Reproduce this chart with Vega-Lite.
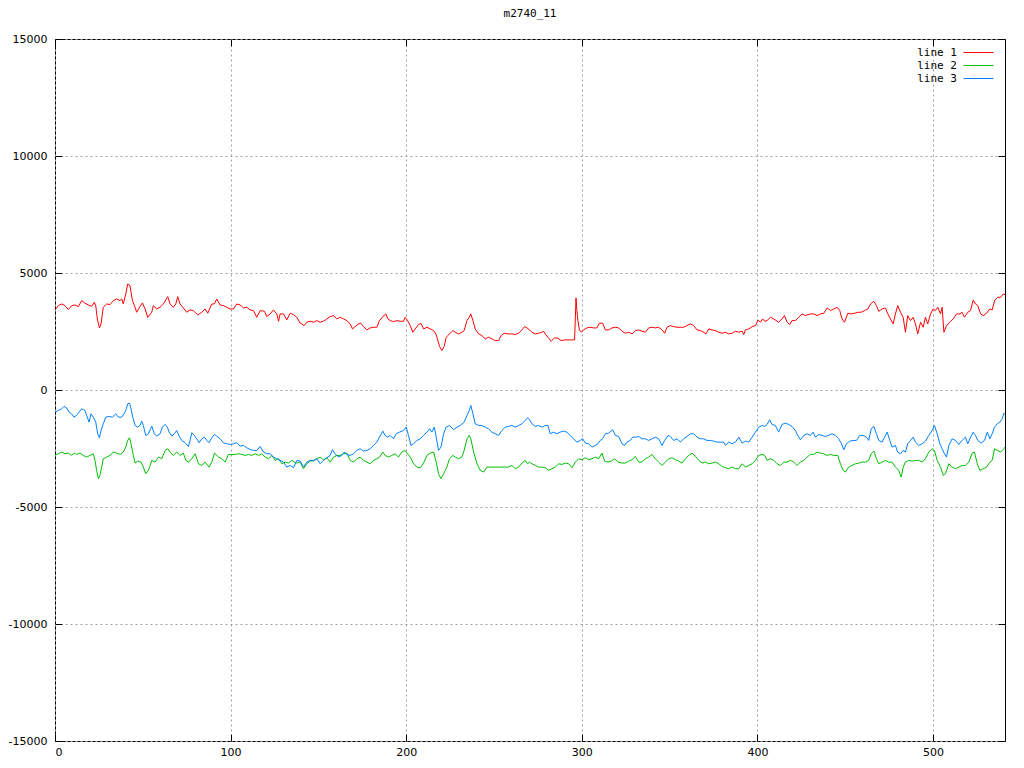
{
"$schema":"https://vega.github.io/schema/vega-lite/v6.json",
"width":950,"height":702,
"autosize":{"type":"none"},
"padding":{"left":55,"top":39,"right":19,"bottom":27},
"background":"white",
"title":{"text":"m2740_11","font":"DejaVu Sans Mono","fontSize":11,"fontWeight":"normal","color":"black","offset":14},
"config":{"view":{"stroke":"black","strokeWidth":1},
"axis":{"domain":false,"tickColor":"black","tickSize":-7,"tickWidth":1,"labelFont":"DejaVu Sans","labelFontSize":11,"labelColor":"black","gridColor":"#a0a0a0","gridDash":[2,3],"gridWidth":1,"title":null,"labelExpr":"'' + datum.value"}},
"data":{"values":[
{"x":0,"y":3421,"s":"line 1"},{"x":1.9,"y":3606,"s":"line 1"},{"x":3.8,"y":3677,"s":"line 1"},{"x":5.7,"y":3606,"s":"line 1"},{"x":7.6,"y":3436,"s":"line 1"},{"x":9.5,"y":3606,"s":"line 1"},{"x":11.4,"y":3635,"s":"line 1"},{"x":13.3,"y":3564,"s":"line 1"},{"x":15.2,"y":3820,"s":"line 1"},{"x":17.1,"y":3706,"s":"line 1"},{"x":19,"y":3635,"s":"line 1"},{"x":20.9,"y":3578,"s":"line 1"},{"x":22.4,"y":3749,"s":"line 1"},{"x":23.2,"y":3606,"s":"line 1"},{"x":24.1,"y":3037,"s":"line 1"},{"x":25.3,"y":2653,"s":"line 1"},{"x":26.2,"y":2824,"s":"line 1"},{"x":27.5,"y":3535,"s":"line 1"},{"x":29.4,"y":3677,"s":"line 1"},{"x":31.3,"y":3649,"s":"line 1"},{"x":33.2,"y":3820,"s":"line 1"},{"x":35.1,"y":3891,"s":"line 1"},{"x":37,"y":3820,"s":"line 1"},{"x":38,"y":3891,"s":"line 1"},{"x":38.9,"y":3677,"s":"line 1"},{"x":40.3,"y":4104,"s":"line 1"},{"x":41.4,"y":4531,"s":"line 1"},{"x":42.7,"y":4460,"s":"line 1"},{"x":44.1,"y":3820,"s":"line 1"},{"x":45.6,"y":3535,"s":"line 1"},{"x":46.5,"y":3322,"s":"line 1"},{"x":48.4,"y":3564,"s":"line 1"},{"x":49.8,"y":3720,"s":"line 1"},{"x":51.3,"y":3464,"s":"line 1"},{"x":52.8,"y":3108,"s":"line 1"},{"x":55.1,"y":3322,"s":"line 1"},{"x":56,"y":3606,"s":"line 1"},{"x":57.9,"y":3464,"s":"line 1"},{"x":59.8,"y":3535,"s":"line 1"},{"x":61.7,"y":3677,"s":"line 1"},{"x":64.2,"y":3990,"s":"line 1"},{"x":65.5,"y":3677,"s":"line 1"},{"x":67.4,"y":3535,"s":"line 1"},{"x":68.8,"y":3677,"s":"line 1"},{"x":69.9,"y":3990,"s":"line 1"},{"x":71.2,"y":3677,"s":"line 1"},{"x":73.1,"y":3507,"s":"line 1"},{"x":75,"y":3322,"s":"line 1"},{"x":76.9,"y":3421,"s":"line 1"},{"x":78.8,"y":3393,"s":"line 1"},{"x":81.3,"y":3208,"s":"line 1"},{"x":83.6,"y":3322,"s":"line 1"},{"x":85.5,"y":3464,"s":"line 1"},{"x":87,"y":3279,"s":"line 1"},{"x":89.3,"y":3677,"s":"line 1"},{"x":90.8,"y":3677,"s":"line 1"},{"x":92.1,"y":3891,"s":"line 1"},{"x":94,"y":3635,"s":"line 1"},{"x":95.9,"y":3606,"s":"line 1"},{"x":97.8,"y":3535,"s":"line 1"},{"x":99.7,"y":3464,"s":"line 1"},{"x":101.6,"y":3464,"s":"line 1"},{"x":103.5,"y":3677,"s":"line 1"},{"x":105.4,"y":3635,"s":"line 1"},{"x":107.3,"y":3507,"s":"line 1"},{"x":109.2,"y":3535,"s":"line 1"},{"x":111.1,"y":3421,"s":"line 1"},{"x":113,"y":3393,"s":"line 1"},{"x":114.9,"y":3108,"s":"line 1"},{"x":116.8,"y":3393,"s":"line 1"},{"x":119.3,"y":3365,"s":"line 1"},{"x":120.6,"y":3137,"s":"line 1"},{"x":122.5,"y":3251,"s":"line 1"},{"x":124.4,"y":3421,"s":"line 1"},{"x":126.3,"y":3251,"s":"line 1"},{"x":127.3,"y":2938,"s":"line 1"},{"x":128.2,"y":3251,"s":"line 1"},{"x":130.1,"y":3251,"s":"line 1"},{"x":132,"y":2995,"s":"line 1"},{"x":133.9,"y":3279,"s":"line 1"},{"x":135.8,"y":3222,"s":"line 1"},{"x":137.7,"y":3108,"s":"line 1"},{"x":139.6,"y":2866,"s":"line 1"},{"x":141.9,"y":2753,"s":"line 1"},{"x":143.4,"y":2895,"s":"line 1"},{"x":145.3,"y":2938,"s":"line 1"},{"x":147.2,"y":2895,"s":"line 1"},{"x":149.1,"y":2966,"s":"line 1"},{"x":151,"y":2895,"s":"line 1"},{"x":152.9,"y":2938,"s":"line 1"},{"x":154.8,"y":3037,"s":"line 1"},{"x":156.7,"y":3137,"s":"line 1"},{"x":158.6,"y":3180,"s":"line 1"},{"x":160.5,"y":3037,"s":"line 1"},{"x":162.4,"y":3108,"s":"line 1"},{"x":164.3,"y":3037,"s":"line 1"},{"x":166.2,"y":2966,"s":"line 1"},{"x":168.1,"y":2824,"s":"line 1"},{"x":169.4,"y":2610,"s":"line 1"},{"x":170.9,"y":2710,"s":"line 1"},{"x":172.8,"y":2824,"s":"line 1"},{"x":174.2,"y":2852,"s":"line 1"},{"x":175.7,"y":2710,"s":"line 1"},{"x":177.6,"y":2568,"s":"line 1"},{"x":179.5,"y":2653,"s":"line 1"},{"x":181.4,"y":2681,"s":"line 1"},{"x":183.3,"y":2681,"s":"line 1"},{"x":184.8,"y":2966,"s":"line 1"},{"x":186.7,"y":3137,"s":"line 1"},{"x":188.4,"y":3251,"s":"line 1"},{"x":189.6,"y":3037,"s":"line 1"},{"x":190.9,"y":2966,"s":"line 1"},{"x":192.8,"y":2923,"s":"line 1"},{"x":194.7,"y":2966,"s":"line 1"},{"x":196.6,"y":2938,"s":"line 1"},{"x":198.5,"y":2938,"s":"line 1"},{"x":199.4,"y":3108,"s":"line 1"},{"x":200.8,"y":2966,"s":"line 1"},{"x":202.3,"y":2753,"s":"line 1"},{"x":203.8,"y":2468,"s":"line 1"},{"x":205.1,"y":2610,"s":"line 1"},{"x":207,"y":2795,"s":"line 1"},{"x":208.4,"y":2852,"s":"line 1"},{"x":209.9,"y":2610,"s":"line 1"},{"x":211.8,"y":2681,"s":"line 1"},{"x":213.7,"y":2610,"s":"line 1"},{"x":215.6,"y":2539,"s":"line 1"},{"x":216.9,"y":2397,"s":"line 1"},{"x":217.8,"y":2184,"s":"line 1"},{"x":219,"y":1857,"s":"line 1"},{"x":220.3,"y":1686,"s":"line 1"},{"x":221.6,"y":1857,"s":"line 1"},{"x":222.8,"y":2255,"s":"line 1"},{"x":224.7,"y":2397,"s":"line 1"},{"x":226.6,"y":2539,"s":"line 1"},{"x":227.9,"y":2468,"s":"line 1"},{"x":229.8,"y":2397,"s":"line 1"},{"x":231.7,"y":2468,"s":"line 1"},{"x":233,"y":2539,"s":"line 1"},{"x":234.6,"y":2966,"s":"line 1"},{"x":235.9,"y":3108,"s":"line 1"},{"x":236.8,"y":3251,"s":"line 1"},{"x":238,"y":2966,"s":"line 1"},{"x":239.3,"y":2610,"s":"line 1"},{"x":241.2,"y":2397,"s":"line 1"},{"x":243.1,"y":2326,"s":"line 1"},{"x":245,"y":2184,"s":"line 1"},{"x":246.9,"y":2255,"s":"line 1"},{"x":248.8,"y":2184,"s":"line 1"},{"x":250.7,"y":2112,"s":"line 1"},{"x":252.6,"y":2112,"s":"line 1"},{"x":254.1,"y":2326,"s":"line 1"},{"x":255.8,"y":2426,"s":"line 1"},{"x":258.3,"y":2397,"s":"line 1"},{"x":260.2,"y":2397,"s":"line 1"},{"x":262.1,"y":2369,"s":"line 1"},{"x":264,"y":2426,"s":"line 1"},{"x":265.9,"y":2568,"s":"line 1"},{"x":267.4,"y":2710,"s":"line 1"},{"x":268.8,"y":2653,"s":"line 1"},{"x":270.3,"y":2568,"s":"line 1"},{"x":271.6,"y":2468,"s":"line 1"},{"x":273.5,"y":2397,"s":"line 1"},{"x":275.4,"y":2426,"s":"line 1"},{"x":277.3,"y":2468,"s":"line 1"},{"x":278.2,"y":2511,"s":"line 1"},{"x":279.2,"y":2397,"s":"line 1"},{"x":280.7,"y":2255,"s":"line 1"},{"x":282.6,"y":2084,"s":"line 1"},{"x":284.5,"y":2226,"s":"line 1"},{"x":286.4,"y":2212,"s":"line 1"},{"x":288.3,"y":2112,"s":"line 1"},{"x":290.6,"y":2141,"s":"line 1"},{"x":293.4,"y":2141,"s":"line 1"},{"x":295.9,"y":2141,"s":"line 1"},{"x":296.3,"y":3037,"s":"line 1"},{"x":296.7,"y":3934,"s":"line 1"},{"x":297.2,"y":3393,"s":"line 1"},{"x":297.8,"y":2966,"s":"line 1"},{"x":298.6,"y":2568,"s":"line 1"},{"x":299.7,"y":2468,"s":"line 1"},{"x":301,"y":2568,"s":"line 1"},{"x":302.9,"y":2653,"s":"line 1"},{"x":304.8,"y":2681,"s":"line 1"},{"x":306.7,"y":2653,"s":"line 1"},{"x":308.6,"y":2653,"s":"line 1"},{"x":310,"y":2852,"s":"line 1"},{"x":311.9,"y":2852,"s":"line 1"},{"x":313.4,"y":2568,"s":"line 1"},{"x":315.3,"y":2568,"s":"line 1"},{"x":317.2,"y":2653,"s":"line 1"},{"x":319.1,"y":2681,"s":"line 1"},{"x":321,"y":2653,"s":"line 1"},{"x":322.9,"y":2511,"s":"line 1"},{"x":324.8,"y":2426,"s":"line 1"},{"x":326.7,"y":2468,"s":"line 1"},{"x":328.6,"y":2397,"s":"line 1"},{"x":330.5,"y":2539,"s":"line 1"},{"x":332.4,"y":2568,"s":"line 1"},{"x":334.3,"y":2511,"s":"line 1"},{"x":336.2,"y":2468,"s":"line 1"},{"x":338.1,"y":2653,"s":"line 1"},{"x":340,"y":2681,"s":"line 1"},{"x":341.9,"y":2653,"s":"line 1"},{"x":343.8,"y":2681,"s":"line 1"},{"x":345.7,"y":2568,"s":"line 1"},{"x":347.2,"y":2426,"s":"line 1"},{"x":348.5,"y":2681,"s":"line 1"},{"x":350.4,"y":2753,"s":"line 1"},{"x":352.3,"y":2710,"s":"line 1"},{"x":354.2,"y":2681,"s":"line 1"},{"x":356.1,"y":2681,"s":"line 1"},{"x":358,"y":2681,"s":"line 1"},{"x":359.9,"y":2753,"s":"line 1"},{"x":361.8,"y":2824,"s":"line 1"},{"x":363.7,"y":2753,"s":"line 1"},{"x":365.6,"y":2568,"s":"line 1"},{"x":367.5,"y":2539,"s":"line 1"},{"x":369.4,"y":2468,"s":"line 1"},{"x":370.7,"y":2397,"s":"line 1"},{"x":372.3,"y":2610,"s":"line 1"},{"x":374.2,"y":2568,"s":"line 1"},{"x":376.1,"y":2539,"s":"line 1"},{"x":378,"y":2468,"s":"line 1"},{"x":379.9,"y":2426,"s":"line 1"},{"x":381.8,"y":2468,"s":"line 1"},{"x":383.7,"y":2397,"s":"line 1"},{"x":385.6,"y":2426,"s":"line 1"},{"x":387.5,"y":2511,"s":"line 1"},{"x":389.4,"y":2468,"s":"line 1"},{"x":391.3,"y":2511,"s":"line 1"},{"x":392.2,"y":2369,"s":"line 1"},{"x":393.2,"y":2568,"s":"line 1"},{"x":395.1,"y":2610,"s":"line 1"},{"x":397,"y":2710,"s":"line 1"},{"x":398.9,"y":2753,"s":"line 1"},{"x":400.4,"y":2995,"s":"line 1"},{"x":401.7,"y":2895,"s":"line 1"},{"x":403,"y":3037,"s":"line 1"},{"x":404.2,"y":2938,"s":"line 1"},{"x":405.5,"y":2966,"s":"line 1"},{"x":407.4,"y":3108,"s":"line 1"},{"x":409.3,"y":3037,"s":"line 1"},{"x":412.1,"y":2895,"s":"line 1"},{"x":414,"y":3037,"s":"line 1"},{"x":415.4,"y":3180,"s":"line 1"},{"x":416.9,"y":2895,"s":"line 1"},{"x":418.4,"y":2795,"s":"line 1"},{"x":419.7,"y":2966,"s":"line 1"},{"x":421.6,"y":2966,"s":"line 1"},{"x":423.5,"y":3108,"s":"line 1"},{"x":425.4,"y":3251,"s":"line 1"},{"x":427.3,"y":3180,"s":"line 1"},{"x":430.2,"y":3251,"s":"line 1"},{"x":432.1,"y":3251,"s":"line 1"},{"x":434,"y":3180,"s":"line 1"},{"x":435.9,"y":3251,"s":"line 1"},{"x":437.8,"y":3279,"s":"line 1"},{"x":439.7,"y":3507,"s":"line 1"},{"x":441.6,"y":3393,"s":"line 1"},{"x":443.5,"y":3464,"s":"line 1"},{"x":445.4,"y":3535,"s":"line 1"},{"x":446.9,"y":3393,"s":"line 1"},{"x":448.2,"y":3037,"s":"line 1"},{"x":449.6,"y":2895,"s":"line 1"},{"x":451.5,"y":3279,"s":"line 1"},{"x":453.4,"y":3251,"s":"line 1"},{"x":455.3,"y":3279,"s":"line 1"},{"x":457.2,"y":3322,"s":"line 1"},{"x":459.1,"y":3322,"s":"line 1"},{"x":461,"y":3393,"s":"line 1"},{"x":462.9,"y":3464,"s":"line 1"},{"x":464.4,"y":3677,"s":"line 1"},{"x":466.3,"y":3791,"s":"line 1"},{"x":467.8,"y":3606,"s":"line 1"},{"x":469.1,"y":3365,"s":"line 1"},{"x":471,"y":3464,"s":"line 1"},{"x":472.9,"y":3507,"s":"line 1"},{"x":474.3,"y":3251,"s":"line 1"},{"x":475.8,"y":3037,"s":"line 1"},{"x":477.3,"y":2824,"s":"line 1"},{"x":478.6,"y":3251,"s":"line 1"},{"x":479.9,"y":3606,"s":"line 1"},{"x":481.5,"y":3322,"s":"line 1"},{"x":483,"y":3108,"s":"line 1"},{"x":484.3,"y":2468,"s":"line 1"},{"x":485.6,"y":3180,"s":"line 1"},{"x":487.2,"y":2966,"s":"line 1"},{"x":488.7,"y":3108,"s":"line 1"},{"x":490,"y":2824,"s":"line 1"},{"x":491.3,"y":2397,"s":"line 1"},{"x":492.9,"y":2895,"s":"line 1"},{"x":494.4,"y":2681,"s":"line 1"},{"x":495.7,"y":3108,"s":"line 1"},{"x":497,"y":2824,"s":"line 1"},{"x":498.6,"y":3251,"s":"line 1"},{"x":500.1,"y":3464,"s":"line 1"},{"x":501.4,"y":3393,"s":"line 1"},{"x":502.7,"y":3535,"s":"line 1"},{"x":504.3,"y":3251,"s":"line 1"},{"x":505.2,"y":3535,"s":"line 1"},{"x":506.2,"y":2468,"s":"line 1"},{"x":507.7,"y":2753,"s":"line 1"},{"x":509.6,"y":2895,"s":"line 1"},{"x":511.5,"y":3037,"s":"line 1"},{"x":513.4,"y":3251,"s":"line 1"},{"x":515.3,"y":3251,"s":"line 1"},{"x":516.6,"y":3322,"s":"line 1"},{"x":517.9,"y":3108,"s":"line 1"},{"x":519.8,"y":3322,"s":"line 1"},{"x":521.4,"y":3393,"s":"line 1"},{"x":522.9,"y":3848,"s":"line 1"},{"x":524.2,"y":3677,"s":"line 1"},{"x":525.5,"y":3606,"s":"line 1"},{"x":527.1,"y":3251,"s":"line 1"},{"x":528.6,"y":3180,"s":"line 1"},{"x":530.5,"y":3279,"s":"line 1"},{"x":532.4,"y":3464,"s":"line 1"},{"x":533.7,"y":3421,"s":"line 1"},{"x":535.2,"y":3848,"s":"line 1"},{"x":536.9,"y":3962,"s":"line 1"},{"x":538.5,"y":3962,"s":"line 1"},{"x":540,"y":4104,"s":"line 1"},{"x":541,"y":4076,"s":"line 1"},
{"x":0,"y":-2796,"s":"line 2"},{"x":1.9,"y":-2725,"s":"line 2"},{"x":3.8,"y":-2654,"s":"line 2"},{"x":5.7,"y":-2725,"s":"line 2"},{"x":7.6,"y":-2696,"s":"line 2"},{"x":9.5,"y":-2796,"s":"line 2"},{"x":11,"y":-2696,"s":"line 2"},{"x":12.3,"y":-2753,"s":"line 2"},{"x":14.2,"y":-2696,"s":"line 2"},{"x":16.1,"y":-2796,"s":"line 2"},{"x":18,"y":-2867,"s":"line 2"},{"x":19.9,"y":-2796,"s":"line 2"},{"x":21.8,"y":-2725,"s":"line 2"},{"x":22.8,"y":-3009,"s":"line 2"},{"x":23.7,"y":-3436,"s":"line 2"},{"x":24.7,"y":-3792,"s":"line 2"},{"x":25.6,"y":-3650,"s":"line 2"},{"x":26.6,"y":-3294,"s":"line 2"},{"x":27.5,"y":-2938,"s":"line 2"},{"x":29.4,"y":-2867,"s":"line 2"},{"x":31.3,"y":-2796,"s":"line 2"},{"x":33.2,"y":-2654,"s":"line 2"},{"x":35.1,"y":-2696,"s":"line 2"},{"x":37,"y":-2753,"s":"line 2"},{"x":38.9,"y":-2654,"s":"line 2"},{"x":40.3,"y":-2440,"s":"line 2"},{"x":41.4,"y":-2156,"s":"line 2"},{"x":42.4,"y":-2042,"s":"line 2"},{"x":43.3,"y":-2298,"s":"line 2"},{"x":44.6,"y":-2796,"s":"line 2"},{"x":45.6,"y":-3123,"s":"line 2"},{"x":47.1,"y":-3038,"s":"line 2"},{"x":49,"y":-3081,"s":"line 2"},{"x":50.3,"y":-3294,"s":"line 2"},{"x":51.7,"y":-3578,"s":"line 2"},{"x":53.2,"y":-3436,"s":"line 2"},{"x":55.1,"y":-3009,"s":"line 2"},{"x":57,"y":-3081,"s":"line 2"},{"x":58.9,"y":-2867,"s":"line 2"},{"x":60.8,"y":-2938,"s":"line 2"},{"x":62.7,"y":-2583,"s":"line 2"},{"x":64.2,"y":-2511,"s":"line 2"},{"x":65.5,"y":-2654,"s":"line 2"},{"x":67.4,"y":-2796,"s":"line 2"},{"x":69.3,"y":-2654,"s":"line 2"},{"x":71.2,"y":-2796,"s":"line 2"},{"x":73.1,"y":-2696,"s":"line 2"},{"x":74.5,"y":-3009,"s":"line 2"},{"x":76,"y":-3081,"s":"line 2"},{"x":77.9,"y":-2938,"s":"line 2"},{"x":79.8,"y":-2725,"s":"line 2"},{"x":81.7,"y":-3152,"s":"line 2"},{"x":83.6,"y":-3223,"s":"line 2"},{"x":85.5,"y":-3081,"s":"line 2"},{"x":87.7,"y":-3294,"s":"line 2"},{"x":89.3,"y":-3081,"s":"line 2"},{"x":90.8,"y":-2696,"s":"line 2"},{"x":93.1,"y":-2867,"s":"line 2"},{"x":95,"y":-2938,"s":"line 2"},{"x":96.9,"y":-3081,"s":"line 2"},{"x":98.8,"y":-2753,"s":"line 2"},{"x":100.7,"y":-2767,"s":"line 2"},{"x":102.6,"y":-2753,"s":"line 2"},{"x":104.5,"y":-2725,"s":"line 2"},{"x":106.4,"y":-2753,"s":"line 2"},{"x":108.3,"y":-2796,"s":"line 2"},{"x":110.2,"y":-2753,"s":"line 2"},{"x":112.1,"y":-2796,"s":"line 2"},{"x":114,"y":-2725,"s":"line 2"},{"x":115.9,"y":-2796,"s":"line 2"},{"x":117.8,"y":-2725,"s":"line 2"},{"x":119.7,"y":-2867,"s":"line 2"},{"x":121.6,"y":-2938,"s":"line 2"},{"x":123.5,"y":-2796,"s":"line 2"},{"x":125.4,"y":-3009,"s":"line 2"},{"x":127.3,"y":-2938,"s":"line 2"},{"x":129.2,"y":-3152,"s":"line 2"},{"x":131.1,"y":-3081,"s":"line 2"},{"x":133,"y":-3123,"s":"line 2"},{"x":134.9,"y":-3009,"s":"line 2"},{"x":136.4,"y":-3081,"s":"line 2"},{"x":137.7,"y":-3123,"s":"line 2"},{"x":139.6,"y":-3081,"s":"line 2"},{"x":141.5,"y":-3365,"s":"line 2"},{"x":143.4,"y":-3152,"s":"line 2"},{"x":145.3,"y":-3038,"s":"line 2"},{"x":147.2,"y":-3009,"s":"line 2"},{"x":149.1,"y":-2938,"s":"line 2"},{"x":151,"y":-2867,"s":"line 2"},{"x":152.9,"y":-2981,"s":"line 2"},{"x":154.8,"y":-2896,"s":"line 2"},{"x":156.7,"y":-3081,"s":"line 2"},{"x":158.6,"y":-2867,"s":"line 2"},{"x":160.5,"y":-2796,"s":"line 2"},{"x":162.4,"y":-2796,"s":"line 2"},{"x":164.3,"y":-2725,"s":"line 2"},{"x":166.2,"y":-2696,"s":"line 2"},{"x":168.1,"y":-3009,"s":"line 2"},{"x":170,"y":-3081,"s":"line 2"},{"x":171.9,"y":-2938,"s":"line 2"},{"x":173.8,"y":-2867,"s":"line 2"},{"x":175.7,"y":-3009,"s":"line 2"},{"x":177.6,"y":-3081,"s":"line 2"},{"x":179.5,"y":-3152,"s":"line 2"},{"x":181.4,"y":-3009,"s":"line 2"},{"x":183.3,"y":-2938,"s":"line 2"},{"x":184.8,"y":-2867,"s":"line 2"},{"x":186.7,"y":-2654,"s":"line 2"},{"x":188,"y":-2796,"s":"line 2"},{"x":189.9,"y":-2867,"s":"line 2"},{"x":191.8,"y":-2796,"s":"line 2"},{"x":193.7,"y":-2725,"s":"line 2"},{"x":195.6,"y":-2867,"s":"line 2"},{"x":197.5,"y":-2654,"s":"line 2"},{"x":199.4,"y":-2583,"s":"line 2"},{"x":200.8,"y":-2725,"s":"line 2"},{"x":202.3,"y":-2867,"s":"line 2"},{"x":204.2,"y":-3152,"s":"line 2"},{"x":206.1,"y":-3294,"s":"line 2"},{"x":208,"y":-3322,"s":"line 2"},{"x":209.9,"y":-3123,"s":"line 2"},{"x":211.8,"y":-2796,"s":"line 2"},{"x":213.7,"y":-2696,"s":"line 2"},{"x":215.6,"y":-2654,"s":"line 2"},{"x":217.1,"y":-3081,"s":"line 2"},{"x":218.4,"y":-3578,"s":"line 2"},{"x":219.8,"y":-3792,"s":"line 2"},{"x":221.3,"y":-3578,"s":"line 2"},{"x":222.8,"y":-3365,"s":"line 2"},{"x":224.7,"y":-2938,"s":"line 2"},{"x":226.6,"y":-2796,"s":"line 2"},{"x":227.9,"y":-2867,"s":"line 2"},{"x":229.8,"y":-2938,"s":"line 2"},{"x":231.7,"y":-2867,"s":"line 2"},{"x":233,"y":-2583,"s":"line 2"},{"x":234.6,"y":-2085,"s":"line 2"},{"x":235.9,"y":-1942,"s":"line 2"},{"x":236.8,"y":-2085,"s":"line 2"},{"x":238.4,"y":-2654,"s":"line 2"},{"x":240.3,"y":-3152,"s":"line 2"},{"x":242.2,"y":-3436,"s":"line 2"},{"x":244.1,"y":-3507,"s":"line 2"},{"x":246,"y":-3294,"s":"line 2"},{"x":247.9,"y":-3294,"s":"line 2"},{"x":251.7,"y":-3294,"s":"line 2"},{"x":255.5,"y":-3294,"s":"line 2"},{"x":258.3,"y":-3294,"s":"line 2"},{"x":260.2,"y":-3223,"s":"line 2"},{"x":262.1,"y":-3365,"s":"line 2"},{"x":264,"y":-3294,"s":"line 2"},{"x":265.9,"y":-3123,"s":"line 2"},{"x":267.8,"y":-3009,"s":"line 2"},{"x":269.1,"y":-3152,"s":"line 2"},{"x":270.3,"y":-3081,"s":"line 2"},{"x":271.6,"y":-3152,"s":"line 2"},{"x":273.5,"y":-3223,"s":"line 2"},{"x":275.4,"y":-3294,"s":"line 2"},{"x":277.3,"y":-3294,"s":"line 2"},{"x":279.2,"y":-3322,"s":"line 2"},{"x":281.1,"y":-3436,"s":"line 2"},{"x":283,"y":-3365,"s":"line 2"},{"x":284.9,"y":-3294,"s":"line 2"},{"x":286.8,"y":-3152,"s":"line 2"},{"x":288.7,"y":-3180,"s":"line 2"},{"x":290.6,"y":-3123,"s":"line 2"},{"x":292.5,"y":-3152,"s":"line 2"},{"x":294.4,"y":-3322,"s":"line 2"},{"x":296.3,"y":-3081,"s":"line 2"},{"x":298.2,"y":-2938,"s":"line 2"},{"x":300.1,"y":-2981,"s":"line 2"},{"x":302,"y":-2896,"s":"line 2"},{"x":303.9,"y":-2981,"s":"line 2"},{"x":305.8,"y":-2938,"s":"line 2"},{"x":307.7,"y":-2867,"s":"line 2"},{"x":309.6,"y":-2938,"s":"line 2"},{"x":311.5,"y":-2696,"s":"line 2"},{"x":313,"y":-3038,"s":"line 2"},{"x":314.9,"y":-3081,"s":"line 2"},{"x":316.8,"y":-3038,"s":"line 2"},{"x":318.7,"y":-2938,"s":"line 2"},{"x":320.6,"y":-3081,"s":"line 2"},{"x":322.9,"y":-3123,"s":"line 2"},{"x":324.8,"y":-3123,"s":"line 2"},{"x":326.7,"y":-3038,"s":"line 2"},{"x":328.6,"y":-2981,"s":"line 2"},{"x":330.5,"y":-2839,"s":"line 2"},{"x":332.4,"y":-3081,"s":"line 2"},{"x":334.3,"y":-3081,"s":"line 2"},{"x":336.2,"y":-2938,"s":"line 2"},{"x":338.1,"y":-2867,"s":"line 2"},{"x":340,"y":-2753,"s":"line 2"},{"x":341.9,"y":-2938,"s":"line 2"},{"x":343.8,"y":-3081,"s":"line 2"},{"x":345.7,"y":-3223,"s":"line 2"},{"x":347.6,"y":-3081,"s":"line 2"},{"x":349.5,"y":-2938,"s":"line 2"},{"x":351.4,"y":-2896,"s":"line 2"},{"x":353.3,"y":-2981,"s":"line 2"},{"x":355.2,"y":-3038,"s":"line 2"},{"x":357.1,"y":-3123,"s":"line 2"},{"x":359,"y":-2938,"s":"line 2"},{"x":360.9,"y":-2796,"s":"line 2"},{"x":362.8,"y":-2696,"s":"line 2"},{"x":364.7,"y":-2839,"s":"line 2"},{"x":366.6,"y":-3009,"s":"line 2"},{"x":368.5,"y":-3123,"s":"line 2"},{"x":370.4,"y":-3081,"s":"line 2"},{"x":372.3,"y":-3152,"s":"line 2"},{"x":374.2,"y":-3123,"s":"line 2"},{"x":376.1,"y":-3081,"s":"line 2"},{"x":378,"y":-3152,"s":"line 2"},{"x":379.9,"y":-3265,"s":"line 2"},{"x":381.8,"y":-3322,"s":"line 2"},{"x":383.7,"y":-3365,"s":"line 2"},{"x":385.6,"y":-3294,"s":"line 2"},{"x":387.5,"y":-3365,"s":"line 2"},{"x":389.4,"y":-3365,"s":"line 2"},{"x":391.3,"y":-3152,"s":"line 2"},{"x":393.2,"y":-3294,"s":"line 2"},{"x":395.1,"y":-3223,"s":"line 2"},{"x":397,"y":-3152,"s":"line 2"},{"x":398.9,"y":-3009,"s":"line 2"},{"x":400.8,"y":-2796,"s":"line 2"},{"x":402.7,"y":-2753,"s":"line 2"},{"x":404.2,"y":-2796,"s":"line 2"},{"x":405.5,"y":-3009,"s":"line 2"},{"x":407.4,"y":-2938,"s":"line 2"},{"x":409.3,"y":-3009,"s":"line 2"},{"x":411.2,"y":-3152,"s":"line 2"},{"x":413.1,"y":-3223,"s":"line 2"},{"x":415,"y":-3081,"s":"line 2"},{"x":416.9,"y":-3081,"s":"line 2"},{"x":418.8,"y":-3009,"s":"line 2"},{"x":420.7,"y":-3081,"s":"line 2"},{"x":422.6,"y":-3223,"s":"line 2"},{"x":424.5,"y":-3081,"s":"line 2"},{"x":426.4,"y":-3009,"s":"line 2"},{"x":428.3,"y":-2867,"s":"line 2"},{"x":430.2,"y":-2753,"s":"line 2"},{"x":432.1,"y":-2753,"s":"line 2"},{"x":434,"y":-2654,"s":"line 2"},{"x":435.9,"y":-2696,"s":"line 2"},{"x":437.8,"y":-2725,"s":"line 2"},{"x":439.7,"y":-2796,"s":"line 2"},{"x":441.6,"y":-2753,"s":"line 2"},{"x":443.5,"y":-2796,"s":"line 2"},{"x":445.8,"y":-2796,"s":"line 2"},{"x":447.3,"y":-3152,"s":"line 2"},{"x":448.8,"y":-3436,"s":"line 2"},{"x":450.1,"y":-3507,"s":"line 2"},{"x":452,"y":-3294,"s":"line 2"},{"x":453.9,"y":-3223,"s":"line 2"},{"x":455.8,"y":-3152,"s":"line 2"},{"x":457.7,"y":-3123,"s":"line 2"},{"x":459.6,"y":-3081,"s":"line 2"},{"x":461.5,"y":-3081,"s":"line 2"},{"x":463.4,"y":-3009,"s":"line 2"},{"x":464.8,"y":-2725,"s":"line 2"},{"x":466.3,"y":-2611,"s":"line 2"},{"x":467.8,"y":-2938,"s":"line 2"},{"x":469.1,"y":-3152,"s":"line 2"},{"x":471,"y":-3081,"s":"line 2"},{"x":472.9,"y":-3009,"s":"line 2"},{"x":474.8,"y":-3081,"s":"line 2"},{"x":476.7,"y":-3081,"s":"line 2"},{"x":478.6,"y":-3294,"s":"line 2"},{"x":480.5,"y":-3436,"s":"line 2"},{"x":481.9,"y":-3721,"s":"line 2"},{"x":483,"y":-3294,"s":"line 2"},{"x":484.3,"y":-3081,"s":"line 2"},{"x":486.2,"y":-3009,"s":"line 2"},{"x":488.1,"y":-3038,"s":"line 2"},{"x":490,"y":-3009,"s":"line 2"},{"x":491.9,"y":-3009,"s":"line 2"},{"x":493.8,"y":-3081,"s":"line 2"},{"x":495.7,"y":-2938,"s":"line 2"},{"x":497.6,"y":-2654,"s":"line 2"},{"x":499.5,"y":-2511,"s":"line 2"},{"x":500.8,"y":-2583,"s":"line 2"},{"x":502.4,"y":-3009,"s":"line 2"},{"x":504.3,"y":-3294,"s":"line 2"},{"x":505.8,"y":-3650,"s":"line 2"},{"x":507.1,"y":-3578,"s":"line 2"},{"x":509,"y":-3152,"s":"line 2"},{"x":510.9,"y":-3294,"s":"line 2"},{"x":512.8,"y":-3365,"s":"line 2"},{"x":514.7,"y":-3294,"s":"line 2"},{"x":516.6,"y":-3223,"s":"line 2"},{"x":518.5,"y":-3223,"s":"line 2"},{"x":520.4,"y":-3081,"s":"line 2"},{"x":522.3,"y":-2696,"s":"line 2"},{"x":523.6,"y":-2654,"s":"line 2"},{"x":525.2,"y":-3152,"s":"line 2"},{"x":526.7,"y":-3436,"s":"line 2"},{"x":528.6,"y":-3365,"s":"line 2"},{"x":530.5,"y":-3294,"s":"line 2"},{"x":532.4,"y":-3081,"s":"line 2"},{"x":533.7,"y":-3009,"s":"line 2"},{"x":535,"y":-2511,"s":"line 2"},{"x":536.6,"y":-2583,"s":"line 2"},{"x":538.5,"y":-2654,"s":"line 2"},{"x":540.4,"y":-2511,"s":"line 2"},{"x":541,"y":-2440,"s":"line 2"},
{"x":0,"y":-946,"s":"line 3"},{"x":1.9,"y":-875,"s":"line 3"},{"x":3.8,"y":-804,"s":"line 3"},{"x":5.1,"y":-704,"s":"line 3"},{"x":6.6,"y":-761,"s":"line 3"},{"x":8,"y":-946,"s":"line 3"},{"x":9.5,"y":-1018,"s":"line 3"},{"x":10.8,"y":-1160,"s":"line 3"},{"x":12.3,"y":-1089,"s":"line 3"},{"x":13.7,"y":-946,"s":"line 3"},{"x":15.2,"y":-804,"s":"line 3"},{"x":17.1,"y":-875,"s":"line 3"},{"x":18,"y":-1089,"s":"line 3"},{"x":19.4,"y":-1373,"s":"line 3"},{"x":20.5,"y":-1018,"s":"line 3"},{"x":21.8,"y":-1160,"s":"line 3"},{"x":23.2,"y":-1373,"s":"line 3"},{"x":24.3,"y":-1871,"s":"line 3"},{"x":25.3,"y":-2042,"s":"line 3"},{"x":26.2,"y":-1729,"s":"line 3"},{"x":27.5,"y":-1444,"s":"line 3"},{"x":28.9,"y":-1160,"s":"line 3"},{"x":30.8,"y":-1131,"s":"line 3"},{"x":32.7,"y":-1160,"s":"line 3"},{"x":34.6,"y":-1018,"s":"line 3"},{"x":36.1,"y":-1160,"s":"line 3"},{"x":38,"y":-1160,"s":"line 3"},{"x":39.3,"y":-1018,"s":"line 3"},{"x":40.3,"y":-875,"s":"line 3"},{"x":41.4,"y":-591,"s":"line 3"},{"x":42.4,"y":-562,"s":"line 3"},{"x":43.3,"y":-804,"s":"line 3"},{"x":44.3,"y":-1160,"s":"line 3"},{"x":45.6,"y":-1516,"s":"line 3"},{"x":47.1,"y":-1587,"s":"line 3"},{"x":48.4,"y":-1516,"s":"line 3"},{"x":49.4,"y":-1331,"s":"line 3"},{"x":50.3,"y":-1516,"s":"line 3"},{"x":51.7,"y":-1942,"s":"line 3"},{"x":53.2,"y":-1871,"s":"line 3"},{"x":55.1,"y":-1544,"s":"line 3"},{"x":56.6,"y":-1871,"s":"line 3"},{"x":57.9,"y":-1971,"s":"line 3"},{"x":59.8,"y":-1871,"s":"line 3"},{"x":61.2,"y":-1587,"s":"line 3"},{"x":62.7,"y":-1473,"s":"line 3"},{"x":64,"y":-1587,"s":"line 3"},{"x":65,"y":-1800,"s":"line 3"},{"x":66.5,"y":-1971,"s":"line 3"},{"x":68,"y":-1871,"s":"line 3"},{"x":69.3,"y":-1729,"s":"line 3"},{"x":70.7,"y":-1971,"s":"line 3"},{"x":72.2,"y":-2156,"s":"line 3"},{"x":74.1,"y":-2255,"s":"line 3"},{"x":76,"y":-2412,"s":"line 3"},{"x":76.9,"y":-2156,"s":"line 3"},{"x":77.9,"y":-1829,"s":"line 3"},{"x":79.4,"y":-1942,"s":"line 3"},{"x":80.7,"y":-2085,"s":"line 3"},{"x":82.1,"y":-2255,"s":"line 3"},{"x":83.6,"y":-2085,"s":"line 3"},{"x":85.1,"y":-2014,"s":"line 3"},{"x":86.4,"y":-2156,"s":"line 3"},{"x":87.7,"y":-2255,"s":"line 3"},{"x":89.3,"y":-2042,"s":"line 3"},{"x":90.8,"y":-1900,"s":"line 3"},{"x":92.1,"y":-1971,"s":"line 3"},{"x":94,"y":-2085,"s":"line 3"},{"x":95.9,"y":-2255,"s":"line 3"},{"x":97.8,"y":-2298,"s":"line 3"},{"x":99.7,"y":-2326,"s":"line 3"},{"x":101.6,"y":-2298,"s":"line 3"},{"x":103.5,"y":-2255,"s":"line 3"},{"x":105.4,"y":-2398,"s":"line 3"},{"x":107.3,"y":-2369,"s":"line 3"},{"x":109.2,"y":-2469,"s":"line 3"},{"x":111.1,"y":-2540,"s":"line 3"},{"x":113,"y":-2583,"s":"line 3"},{"x":114.9,"y":-2583,"s":"line 3"},{"x":116.8,"y":-2412,"s":"line 3"},{"x":118.7,"y":-2654,"s":"line 3"},{"x":120.6,"y":-2725,"s":"line 3"},{"x":122.5,"y":-2725,"s":"line 3"},{"x":124.4,"y":-2867,"s":"line 3"},{"x":126.3,"y":-2938,"s":"line 3"},{"x":128.2,"y":-3009,"s":"line 3"},{"x":130.1,"y":-3081,"s":"line 3"},{"x":132,"y":-3294,"s":"line 3"},{"x":133.9,"y":-3223,"s":"line 3"},{"x":135.8,"y":-3322,"s":"line 3"},{"x":137.7,"y":-3009,"s":"line 3"},{"x":139.6,"y":-3038,"s":"line 3"},{"x":141.5,"y":-3294,"s":"line 3"},{"x":143.4,"y":-3081,"s":"line 3"},{"x":145.3,"y":-3009,"s":"line 3"},{"x":147.2,"y":-3038,"s":"line 3"},{"x":149.1,"y":-2938,"s":"line 3"},{"x":151,"y":-3152,"s":"line 3"},{"x":152.9,"y":-3009,"s":"line 3"},{"x":154.8,"y":-2896,"s":"line 3"},{"x":156.7,"y":-2796,"s":"line 3"},{"x":158,"y":-2554,"s":"line 3"},{"x":159.5,"y":-2725,"s":"line 3"},{"x":161.4,"y":-2867,"s":"line 3"},{"x":163.3,"y":-2796,"s":"line 3"},{"x":164.7,"y":-2654,"s":"line 3"},{"x":166.2,"y":-2753,"s":"line 3"},{"x":168.1,"y":-2796,"s":"line 3"},{"x":170,"y":-2725,"s":"line 3"},{"x":171.9,"y":-2583,"s":"line 3"},{"x":173.8,"y":-2511,"s":"line 3"},{"x":175.7,"y":-2611,"s":"line 3"},{"x":177.6,"y":-2583,"s":"line 3"},{"x":179.5,"y":-2511,"s":"line 3"},{"x":181.4,"y":-2369,"s":"line 3"},{"x":183.3,"y":-2227,"s":"line 3"},{"x":184.8,"y":-2014,"s":"line 3"},{"x":186.7,"y":-1757,"s":"line 3"},{"x":188,"y":-1942,"s":"line 3"},{"x":189.4,"y":-2014,"s":"line 3"},{"x":190.9,"y":-1942,"s":"line 3"},{"x":192.8,"y":-2085,"s":"line 3"},{"x":194.3,"y":-1871,"s":"line 3"},{"x":196.2,"y":-1800,"s":"line 3"},{"x":198.5,"y":-1729,"s":"line 3"},{"x":200,"y":-1587,"s":"line 3"},{"x":201.3,"y":-1942,"s":"line 3"},{"x":202.7,"y":-2369,"s":"line 3"},{"x":204.2,"y":-2298,"s":"line 3"},{"x":206.1,"y":-2156,"s":"line 3"},{"x":208,"y":-2085,"s":"line 3"},{"x":209.9,"y":-1942,"s":"line 3"},{"x":211.8,"y":-1800,"s":"line 3"},{"x":213.3,"y":-1658,"s":"line 3"},{"x":214.6,"y":-1800,"s":"line 3"},{"x":216,"y":-1587,"s":"line 3"},{"x":217.1,"y":-2014,"s":"line 3"},{"x":218.4,"y":-2583,"s":"line 3"},{"x":219.8,"y":-2440,"s":"line 3"},{"x":221.3,"y":-1871,"s":"line 3"},{"x":222.8,"y":-1587,"s":"line 3"},{"x":224.7,"y":-1516,"s":"line 3"},{"x":227,"y":-1700,"s":"line 3"},{"x":228.9,"y":-1587,"s":"line 3"},{"x":230.8,"y":-1516,"s":"line 3"},{"x":233,"y":-1373,"s":"line 3"},{"x":234.6,"y":-1089,"s":"line 3"},{"x":235.9,"y":-875,"s":"line 3"},{"x":236.8,"y":-662,"s":"line 3"},{"x":238,"y":-1018,"s":"line 3"},{"x":239.3,"y":-1444,"s":"line 3"},{"x":241.2,"y":-1516,"s":"line 3"},{"x":243.1,"y":-1516,"s":"line 3"},{"x":245,"y":-1587,"s":"line 3"},{"x":246.9,"y":-1658,"s":"line 3"},{"x":248.8,"y":-1800,"s":"line 3"},{"x":250.7,"y":-1871,"s":"line 3"},{"x":252.6,"y":-1942,"s":"line 3"},{"x":254.5,"y":-1729,"s":"line 3"},{"x":256.4,"y":-1587,"s":"line 3"},{"x":258.3,"y":-1558,"s":"line 3"},{"x":260.2,"y":-1516,"s":"line 3"},{"x":262.1,"y":-1587,"s":"line 3"},{"x":264,"y":-1516,"s":"line 3"},{"x":265.9,"y":-1444,"s":"line 3"},{"x":267.8,"y":-1302,"s":"line 3"},{"x":269.1,"y":-1188,"s":"line 3"},{"x":270.3,"y":-1273,"s":"line 3"},{"x":271.6,"y":-1444,"s":"line 3"},{"x":273.5,"y":-1558,"s":"line 3"},{"x":275.4,"y":-1516,"s":"line 3"},{"x":277.3,"y":-1587,"s":"line 3"},{"x":279.2,"y":-1516,"s":"line 3"},{"x":280.7,"y":-1516,"s":"line 3"},{"x":282,"y":-1871,"s":"line 3"},{"x":283.9,"y":-1800,"s":"line 3"},{"x":285.8,"y":-1871,"s":"line 3"},{"x":287.7,"y":-1800,"s":"line 3"},{"x":289.6,"y":-1757,"s":"line 3"},{"x":291.5,"y":-1800,"s":"line 3"},{"x":293.4,"y":-1942,"s":"line 3"},{"x":295.3,"y":-2085,"s":"line 3"},{"x":297.2,"y":-2227,"s":"line 3"},{"x":299.1,"y":-2156,"s":"line 3"},{"x":300.5,"y":-2085,"s":"line 3"},{"x":302,"y":-2270,"s":"line 3"},{"x":303.9,"y":-2298,"s":"line 3"},{"x":305.8,"y":-2440,"s":"line 3"},{"x":307.7,"y":-2369,"s":"line 3"},{"x":309.2,"y":-2298,"s":"line 3"},{"x":310.5,"y":-2156,"s":"line 3"},{"x":311.9,"y":-2085,"s":"line 3"},{"x":313.4,"y":-1871,"s":"line 3"},{"x":315.3,"y":-1843,"s":"line 3"},{"x":317.6,"y":-1700,"s":"line 3"},{"x":319.1,"y":-1942,"s":"line 3"},{"x":321,"y":-1985,"s":"line 3"},{"x":322.9,"y":-2298,"s":"line 3"},{"x":324.4,"y":-2369,"s":"line 3"},{"x":325.7,"y":-2227,"s":"line 3"},{"x":327.6,"y":-2156,"s":"line 3"},{"x":329,"y":-2014,"s":"line 3"},{"x":330.9,"y":-2014,"s":"line 3"},{"x":332.4,"y":-1985,"s":"line 3"},{"x":334.3,"y":-2085,"s":"line 3"},{"x":336.2,"y":-2085,"s":"line 3"},{"x":338.1,"y":-2156,"s":"line 3"},{"x":340,"y":-2085,"s":"line 3"},{"x":341.9,"y":-2014,"s":"line 3"},{"x":343.8,"y":-2085,"s":"line 3"},{"x":345.7,"y":-2369,"s":"line 3"},{"x":347.2,"y":-2156,"s":"line 3"},{"x":349.1,"y":-1942,"s":"line 3"},{"x":350.4,"y":-1985,"s":"line 3"},{"x":352.3,"y":-2156,"s":"line 3"},{"x":354.2,"y":-2085,"s":"line 3"},{"x":356.1,"y":-2227,"s":"line 3"},{"x":358,"y":-2085,"s":"line 3"},{"x":359.9,"y":-1985,"s":"line 3"},{"x":361.8,"y":-1871,"s":"line 3"},{"x":363.7,"y":-1871,"s":"line 3"},{"x":365.6,"y":-2014,"s":"line 3"},{"x":367.5,"y":-2085,"s":"line 3"},{"x":369.4,"y":-2085,"s":"line 3"},{"x":371.3,"y":-2156,"s":"line 3"},{"x":373.2,"y":-2156,"s":"line 3"},{"x":375.1,"y":-2184,"s":"line 3"},{"x":377,"y":-2227,"s":"line 3"},{"x":378.9,"y":-2227,"s":"line 3"},{"x":380.8,"y":-2227,"s":"line 3"},{"x":381.8,"y":-2369,"s":"line 3"},{"x":383.7,"y":-2227,"s":"line 3"},{"x":385.6,"y":-2298,"s":"line 3"},{"x":387.5,"y":-2227,"s":"line 3"},{"x":389.4,"y":-2014,"s":"line 3"},{"x":391.3,"y":-2270,"s":"line 3"},{"x":393.2,"y":-2184,"s":"line 3"},{"x":395.1,"y":-2227,"s":"line 3"},{"x":397,"y":-2014,"s":"line 3"},{"x":398.9,"y":-1800,"s":"line 3"},{"x":400.8,"y":-1587,"s":"line 3"},{"x":402.7,"y":-1516,"s":"line 3"},{"x":404.2,"y":-1558,"s":"line 3"},{"x":405.5,"y":-1473,"s":"line 3"},{"x":407,"y":-1273,"s":"line 3"},{"x":408.3,"y":-1473,"s":"line 3"},{"x":410.2,"y":-1516,"s":"line 3"},{"x":412.1,"y":-1800,"s":"line 3"},{"x":414,"y":-1473,"s":"line 3"},{"x":415.9,"y":-1416,"s":"line 3"},{"x":417.8,"y":-1473,"s":"line 3"},{"x":419.7,"y":-1558,"s":"line 3"},{"x":421.6,"y":-1729,"s":"line 3"},{"x":423,"y":-1942,"s":"line 3"},{"x":424.5,"y":-2127,"s":"line 3"},{"x":426.4,"y":-1942,"s":"line 3"},{"x":428.3,"y":-1871,"s":"line 3"},{"x":430.2,"y":-1942,"s":"line 3"},{"x":431.7,"y":-1800,"s":"line 3"},{"x":433,"y":-2014,"s":"line 3"},{"x":434.9,"y":-1900,"s":"line 3"},{"x":436.8,"y":-1942,"s":"line 3"},{"x":438.7,"y":-1985,"s":"line 3"},{"x":440.6,"y":-1942,"s":"line 3"},{"x":442.5,"y":-1871,"s":"line 3"},{"x":444.4,"y":-1942,"s":"line 3"},{"x":446.3,"y":-2085,"s":"line 3"},{"x":447.9,"y":-2298,"s":"line 3"},{"x":449.2,"y":-2554,"s":"line 3"},{"x":450.7,"y":-2298,"s":"line 3"},{"x":452.6,"y":-2184,"s":"line 3"},{"x":454.5,"y":-2156,"s":"line 3"},{"x":456.4,"y":-2156,"s":"line 3"},{"x":458.3,"y":-1942,"s":"line 3"},{"x":460.2,"y":-1942,"s":"line 3"},{"x":462.1,"y":-2014,"s":"line 3"},{"x":463.4,"y":-2156,"s":"line 3"},{"x":464.8,"y":-1658,"s":"line 3"},{"x":466.3,"y":-1558,"s":"line 3"},{"x":467.8,"y":-1871,"s":"line 3"},{"x":469.1,"y":-2156,"s":"line 3"},{"x":471,"y":-2227,"s":"line 3"},{"x":472.4,"y":-2014,"s":"line 3"},{"x":473.9,"y":-1800,"s":"line 3"},{"x":475.4,"y":-2156,"s":"line 3"},{"x":476.7,"y":-2440,"s":"line 3"},{"x":478.6,"y":-2369,"s":"line 3"},{"x":479.9,"y":-2654,"s":"line 3"},{"x":481.5,"y":-2725,"s":"line 3"},{"x":483,"y":-2583,"s":"line 3"},{"x":484.3,"y":-2654,"s":"line 3"},{"x":485.6,"y":-2298,"s":"line 3"},{"x":487.2,"y":-2156,"s":"line 3"},{"x":488.7,"y":-2014,"s":"line 3"},{"x":490,"y":-2227,"s":"line 3"},{"x":491.9,"y":-2369,"s":"line 3"},{"x":493.8,"y":-2298,"s":"line 3"},{"x":495.7,"y":-2184,"s":"line 3"},{"x":497.6,"y":-1942,"s":"line 3"},{"x":499.5,"y":-1729,"s":"line 3"},{"x":500.8,"y":-1516,"s":"line 3"},{"x":502.4,"y":-1871,"s":"line 3"},{"x":503.9,"y":-2298,"s":"line 3"},{"x":505.2,"y":-2511,"s":"line 3"},{"x":506.5,"y":-2725,"s":"line 3"},{"x":507.7,"y":-2867,"s":"line 3"},{"x":509,"y":-2369,"s":"line 3"},{"x":510.9,"y":-2085,"s":"line 3"},{"x":512.8,"y":-2156,"s":"line 3"},{"x":514.7,"y":-2326,"s":"line 3"},{"x":516.6,"y":-2156,"s":"line 3"},{"x":518.5,"y":-2014,"s":"line 3"},{"x":519.8,"y":-2298,"s":"line 3"},{"x":521.4,"y":-2014,"s":"line 3"},{"x":522.9,"y":-1800,"s":"line 3"},{"x":524.2,"y":-1942,"s":"line 3"},{"x":525.5,"y":-2156,"s":"line 3"},{"x":527.4,"y":-2270,"s":"line 3"},{"x":529.3,"y":-2156,"s":"line 3"},{"x":530.9,"y":-1800,"s":"line 3"},{"x":532.4,"y":-2085,"s":"line 3"},{"x":533.7,"y":-1871,"s":"line 3"},{"x":535,"y":-1587,"s":"line 3"},{"x":536.6,"y":-1444,"s":"line 3"},{"x":538.1,"y":-1373,"s":"line 3"},{"x":539.4,"y":-1231,"s":"line 3"},{"x":540.4,"y":-989,"s":"line 3"},{"x":541,"y":-1046,"s":"line 3"}
]},
"layer":[
{"mark":{"type":"line","strokeWidth":1,"clip":true},
 "encoding":{
  "x":{"field":"x","type":"quantitative","scale":{"domain":[0,541],"nice":false,"zero":false},"axis":{"orient":"bottom","values":[0,100,200,300,400,500],"grid":true,"labelPadding":12}},
  "y":{"field":"y","type":"quantitative","scale":{"domain":[-15000,15000],"nice":false},"axis":{"orient":"left","values":[-15000,-10000,-5000,0,5000,10000,15000],"grid":true,"labelPadding":15}},
  "color":{"field":"s","type":"nominal","scale":{"domain":["line 1","line 2","line 3"],"range":["#ff0000","#00c000","#0080ff"]},
   "legend":{"orient":"none","legendX":918,"legendY":8,"title":null,"symbolType":"M-3,0H3","symbolSize":100,"symbolStrokeWidth":1,"labelFont":"DejaVu Sans Mono","labelFontSize":11,"labelColor":"black","labelAlign":"right","labelOffset":-27,"rowPadding":1,"padding":0}}
 }},
{"mark":{"type":"line","opacity":0},
 "encoding":{
  "x":{"field":"x","type":"quantitative","axis":{"orient":"top","values":[0,100,200,300,400,500],"labels":false,"grid":false}},
  "y":{"field":"y","type":"quantitative","axis":{"orient":"right","values":[-15000,-10000,-5000,0,5000,10000,15000],"labels":false,"grid":false}}
 }}
],
"resolve":{"axis":{"x":"independent","y":"independent"}}
}
